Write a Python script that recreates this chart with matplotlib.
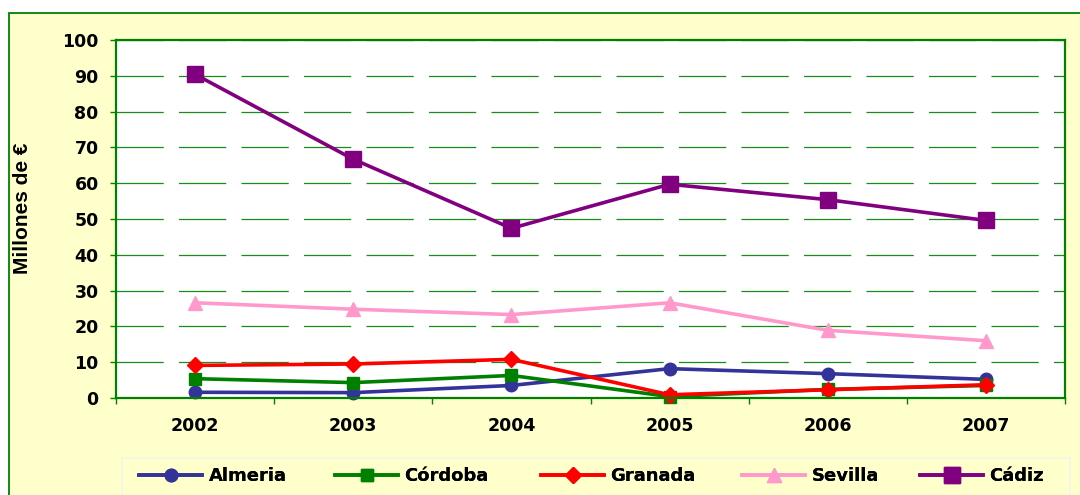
"""Millones de euro por provincia, 2002-2007."""

import matplotlib

matplotlib.use("Agg")

import matplotlib.pyplot as plt
from matplotlib.lines import Line2D
from matplotlib.patches import Rectangle

years = ["2002", "2003", "2004", "2005", "2006", "2007"]
almeria = [1.6, 1.5, 3.5, 8.2, 6.8, 5.2]
cordoba = [5.4, 4.3, 6.3, 0.4, 2.4, 3.5]
granada = [9.1, 9.5, 10.8, 0.9, 2.3, 3.7]
sevilla = [26.6, 24.8, 23.3, 26.6, 18.9, 16.0]
cadiz = [90.4, 66.7, 47.4, 59.7, 55.4, 49.6]

y_ticks = list(range(0, 101, 10))

_BG = "#ffffcc"
_GREEN = "#008000"

series = [
    ("Almeria", almeria, "#333399", "o", 9),
    ("Córdoba", cordoba, "#008000", "s", 8.5),
    ("Granada", granada, "#ff0000", "D", 8.2),
    ("Sevilla", sevilla, "#ff99cc", "^", 10),
    ("Cádiz", cadiz, "#800080", "s", 11),
]

W, H = 1080, 495
plt.rcParams["lines.scale_dashes"] = False

fig = plt.figure(figsize=(W / 100, H / 100), dpi=100, facecolor="white")

# outer chart area: pale yellow with green frame on left/top
fig.add_artist(Rectangle((9 / W, -0.05), 1.1, (H - 13) / H + 0.05,
                         transform=fig.transFigure, facecolor=_BG,
                         edgecolor=_GREEN, linewidth=1.3, zorder=0))

ax = fig.add_axes([116 / W, (H - 398) / H, (1065 - 116) / W, (398 - 40) / H])
ax.set_facecolor("white")
for side in ax.spines.values():
    side.set_color(_GREEN)
    side.set_linewidth(1.6)

x = list(range(len(years)))
for name, values, color, marker, size in series:
    ax.plot(x, values, color=color, linewidth=2.6, marker=marker,
            markersize=size, markeredgecolor=color, label=name,
            solid_joinstyle="round", clip_on=False)

ax.set_xlim(-0.5, len(years) - 0.5)
ax.set_ylim(0, 100)
ax.set_yticks(y_ticks)
ax.yaxis.grid(True, color="#1a8c1a", linewidth=0.9, linestyle=(0, (34, 11)))
ax.set_axisbelow(True)

# category boundaries get ticks, centers get the labels
ax.set_xticks([i - 0.5 for i in range(len(years) + 1)])
ax.set_xticklabels([])
ax.set_xticks(x, minor=True)
ax.set_xticklabels(years, minor=True)
ax.tick_params(axis="x", which="major", length=4, color=_GREEN, width=1)
ax.tick_params(axis="x", which="minor", length=0, pad=14)
ax.tick_params(axis="y", length=4.5, color=_GREEN, width=1, pad=8)
for lab in ax.get_xticklabels(minor=True) + ax.get_yticklabels():
    lab.set_fontfamily("DejaVu Sans")
    lab.set_fontweight("bold")
    lab.set_fontsize(12.5)
    lab.set_color("black")

ax.set_ylabel("Millones de €", fontsize=15, fontweight="bold",
              family=["Liberation Sans Narrow", "Liberation Sans"])
ax.yaxis.set_label_coords(-0.088, 0.53)

# legend: frame plus one entry per anchor position
fig.add_artist(Rectangle((122 / W, -0.05), (1070 - 122) / W, (H - 458) / H + 0.05,
                         transform=fig.transFigure, facecolor=_BG,
                         edgecolor="#f4f4ee", linewidth=1.2, zorder=1))
starts = [139, 335, 541, 742, 920]
for (name, values, color, marker, size), sx in zip(series, starts):
    handle = Line2D([], [], color=color, linewidth=2.6, marker=marker,
                    markersize=size, markeredgecolor=color)
    leg = fig.legend([handle], [name], loc="center left",
                     bbox_to_anchor=(sx / W, (H - 476) / H), frameon=False,
                     borderpad=0, borderaxespad=0, handlelength=3.5,
                     handletextpad=0.35,
                     prop={"family": "DejaVu Sans", "weight": "bold", "size": 13})
    leg.set_zorder(2)
    fig.add_artist(leg)

fig.savefig("out.png", dpi=100, facecolor=fig.get_facecolor())
